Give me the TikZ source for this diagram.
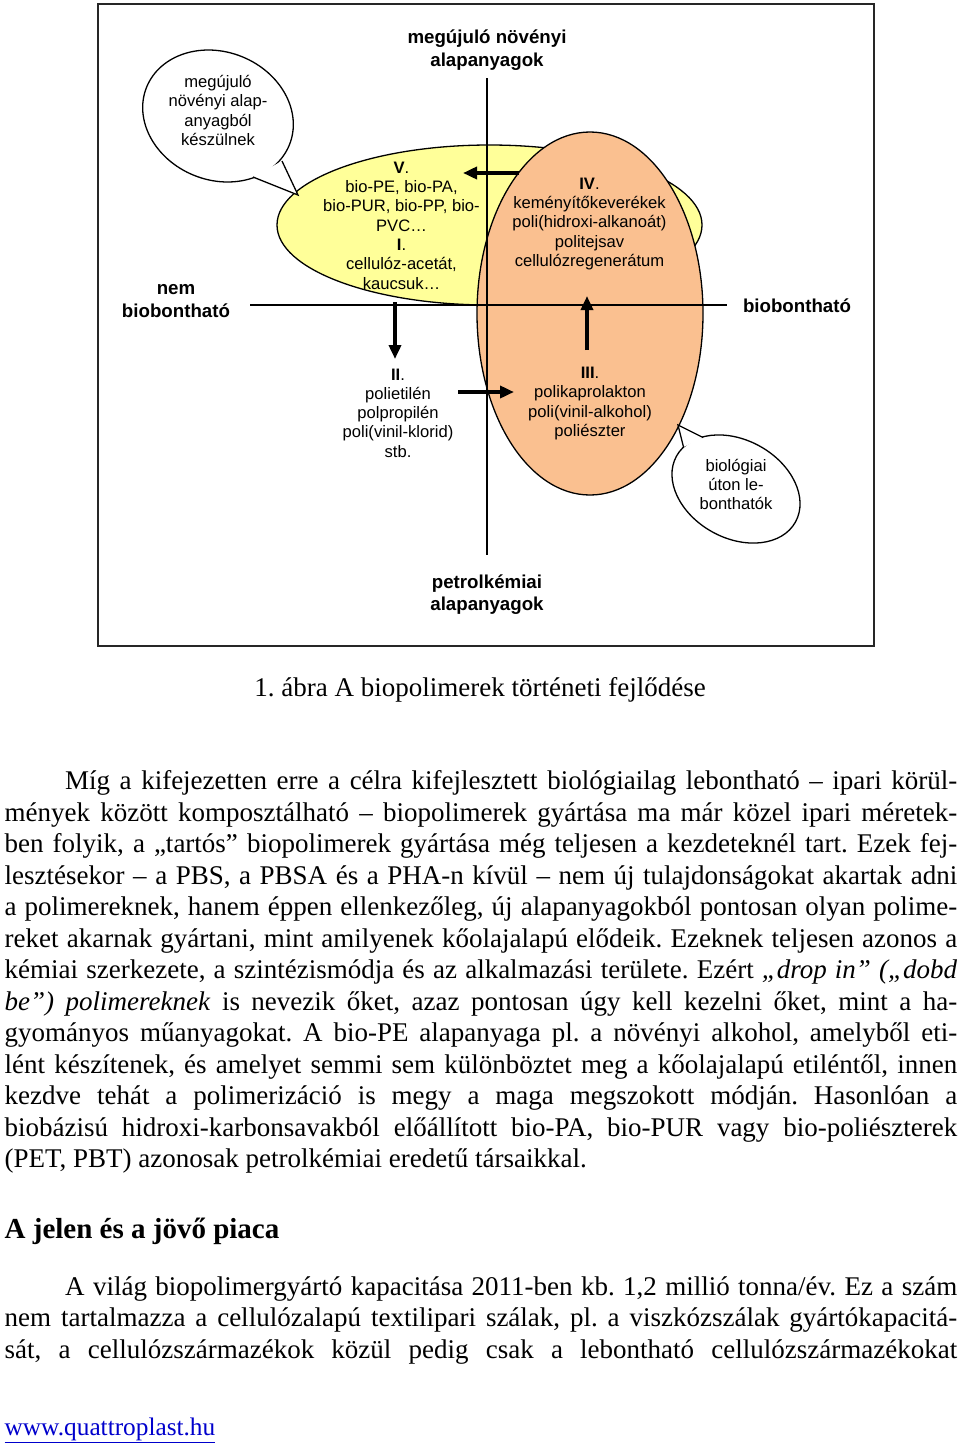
\documentclass[tikz,border=0pt]{standalone}
\usepackage{fontspec}
\setmainfont{Liberation Serif}
\newfontfamily\arial{Liberation Sans}
\usetikzlibrary{shapes.geometric,arrows.meta}
\definecolor{yelfill}{HTML}{FFFF99}
\definecolor{orfill}{HTML}{FAC090}
\definecolor{linkblue}{HTML}{0000CC}
\definecolor{framegray}{HTML}{262626}
\newcommand{\mybodyfont}{\fontsize{27}{31.5}\selectfont\frenchspacing\spaceskip=0.25em plus 1em minus 0.08em\relax}
\newcommand{\jl}[2]{\makebox[#1][s]{#2}}
\begin{document}
\begin{tikzpicture}[x=1pt,y=-1pt,
  lbl/.style={font=\arial\bfseries\fontsize{18.7}{22.5}\selectfont, align=center, inner sep=0},
  etxt/.style={font=\arial\fontsize{16.6}{19.3}\selectfont, align=center, inner sep=0},
  bline/.style={anchor=base west, inner sep=0, font=\mybodyfont},
  thickarrow/.style={line width=3.6pt, -{Triangle[length=14pt,width=12pt]}},
  axis/.style={line width=1.5pt, black},
  bubble/.style={draw, fill=white, ellipse, line width=1.3pt, inner sep=0},
  blob/.style={draw, ellipse, line width=1.3pt, inner sep=0},
]
\fill[white] (0,0) rectangle (960,1452);
\useasboundingbox (0,0) rectangle (960,1452);

% frame
\node[draw=framegray, line width=2pt, inner sep=0, minimum width=775.5pt, minimum height=642pt] (frame) at (485.75,324.5) {};

% ellipses
\node[blob, fill=yelfill, minimum width=425pt, minimum height=160pt] (yel) at (489.5,225) {};
\node[blob, fill=orfill, minimum width=226pt, minimum height=363pt] (ora) at (590,313.5) {};

% axes
\coordinate (vtop) at (487,78);
\coordinate (vbot) at (487,555);
\coordinate (hl) at (250,305);
\coordinate (hr) at (727,305);
\draw[axis] (vtop) -- (vbot);
\draw[axis] (hl) -- (hr);

% arrows
\coordinate (a5s) at (519,173); \coordinate (a5e) at (463,173);
\coordinate (a2s) at (395,302); \coordinate (a2e) at (395,359);
\coordinate (a3s) at (458,392); \coordinate (a3e) at (514,392);
\coordinate (a4s) at (587,350); \coordinate (a4e) at (587,296);
\draw[thickarrow] (a5s) -- (a5e);
\draw[thickarrow] (a2s) -- (a2e);
\draw[thickarrow] (a3s) -- (a3e);
\draw[thickarrow] (a4s) -- (a4e);

% bubble 1
\node[bubble, minimum width=154pt, minimum height=128pt, rotate=-22] (bub1) at (218,116) {};
\coordinate (t1a) at (282,161); \coordinate (t1tip) at (298,195); \coordinate (t1b) at (253,177);
\fill[white] (t1a) -- (t1tip) -- (t1b) -- cycle;
\draw[line width=1.3pt, line join=miter] (t1a) -- (t1tip) -- (t1b);

% bubble 2
\node[bubble, minimum width=136pt, minimum height=98pt, rotate=-29] (bub2) at (736,489) {};
\coordinate (t2a) at (703,437.5); \coordinate (t2tip) at (678,425); \coordinate (t2b) at (683.5,447);
\fill[white] (t2a) -- (t2tip) -- (t2b) -- cycle;
\draw[line width=1.3pt, line join=miter] (t2a) -- (t2tip) -- (t2b);

% diagram texts
\node[lbl] (ltop) at (487,50) {megújuló növényi\\alapanyagok};
\node[lbl] (lleft) at (176,301) {nem\\biobontható};
\node[lbl] (lright) at (797,306) {biobontható};
\node[lbl] (lbot) at (487,594.5) {petrolkémiai\\alapanyagok};

\node[etxt] (t5) at (401.5,225.5) {\textbf{V}.\\bio-PE, bio-PA,\\bio-PUR, bio-PP, bio-\\PVC…\\\textbf{I}.\\cellulóz-acetát,\\kaucsuk…};
\node[etxt] (t4) at (589.5,224) {\textbf{IV}.\\keményítőkeverékek\\poli(hidroxi-alkanoát)\\politejsav\\cellulózregenerátum};
\node[etxt] (t2) at (398,413) {\textbf{II}.\\polietilén\\polpropilén\\poli(vinil-klorid)\\stb.};
\node[etxt] (t3) at (590,403.5) {\textbf{III}.\\polikaprolakton\\poli(vinil-alkohol)\\poliészter};
\node[etxt] (tb1) at (218,110.5) {megújuló\\növényi alap-\\anyagból\\készülnek};
\node[etxt] (tb2) at (736,484.5) {biológiai\\úton le-\\bonthatók};

% caption
\node[anchor=base, inner sep=0, font=\mybodyfont] (cap) at (480,696) {1. ábra A biopolimerek történeti fejlődése};

% paragraph 1
\node[bline] (p1) at (65,789.5) {\jl{892pt}{Míg a kifejezetten erre a célra kifejlesztett biológiailag lebontható – ipari körül-}};
\node[bline] (p2) at (4.5,821) {\jl{952.5pt}{mények között komposztálható – biopolimerek gyártása ma már közel ipari méretek-}};
\node[bline] (p3) at (4.5,852.5) {\jl{952.5pt}{ben folyik, a „tartós” biopolimerek gyártása még teljesen a kezdeteknél tart. Ezek fej-}};
\node[bline] (p4) at (4.5,884) {\jl{952.5pt}{lesztésekor – a PBS, a PBSA és a PHA-n kívül – nem új tulajdonságokat akartak adni}};
\node[bline] (p5) at (4.5,915.5) {\jl{952.5pt}{a polimereknek, hanem éppen ellenkezőleg, új alapanyagokból pontosan olyan polime-}};
\node[bline] (p6) at (4.5,947) {\jl{952.5pt}{reket akarnak gyártani, mint amilyenek kőolajalapú elődeik. Ezeknek teljesen azonos a}};
\node[bline] (p7) at (4.5,978.5) {\jl{952.5pt}{kémiai szerkezete, a szintézismódja és az alkalmazási területe. Ezért \textit{„drop in” („dobd}}};
\node[bline] (p8) at (4.5,1010) {\jl{952.5pt}{\textit{be”) polimereknek} is nevezik őket, azaz pontosan úgy kell kezelni őket, mint a ha-}};
\node[bline] (p9) at (4.5,1041.5) {\jl{952.5pt}{gyományos műanyagokat. A bio-PE alapanyaga pl. a növényi alkohol, amelyből eti-}};
\node[bline] (p10) at (4.5,1073) {\jl{952.5pt}{lént készítenek, és amelyet semmi sem különböztet meg a kőolajalapú etiléntől, innen}};
\node[bline] (p11) at (4.5,1104.5) {\jl{952.5pt}{kezdve tehát a polimerizáció is megy a maga megszokott módján. Hasonlóan a}};
\node[bline] (p12) at (4.5,1136) {\jl{952.5pt}{biobázisú hidroxi-karbonsavakból előállított bio-PA, bio-PUR vagy bio-poliészterek}};
\node[bline] (p13) at (4.5,1167.5) {(PET, PBT) azonosak petrolkémiai eredetű társaikkal.};

% heading
\node[anchor=base west, inner sep=0, font=\fontsize{29}{34}\selectfont\bfseries] (head) at (4.5,1238.5) {A jelen és a jövő piaca};

% paragraph 2
\node[bline] (q1) at (65,1295) {\jl{892pt}{A világ biopolimergyártó kapacitása 2011-ben kb. 1,2 millió tonna/év. Ez a szám}};
\node[bline] (q2) at (4.5,1326.5) {\jl{952.5pt}{nem tartalmazza a cellulózalapú textilipari szálak, pl. a viszkózszálak gyártókapacitá-}};
\node[bline] (q3) at (4.5,1358) {\jl{952.5pt}{sát, a cellulózszármazékok közül pedig csak a lebontható cellulózszármazékokat}};

% url
\node[anchor=base west, inner sep=0, text=linkblue, font=\fontsize{25.3}{29}\selectfont] (url) at (4.5,1435) {\underline{www.quattroplast.hu}};
\end{tikzpicture}
\end{document}
